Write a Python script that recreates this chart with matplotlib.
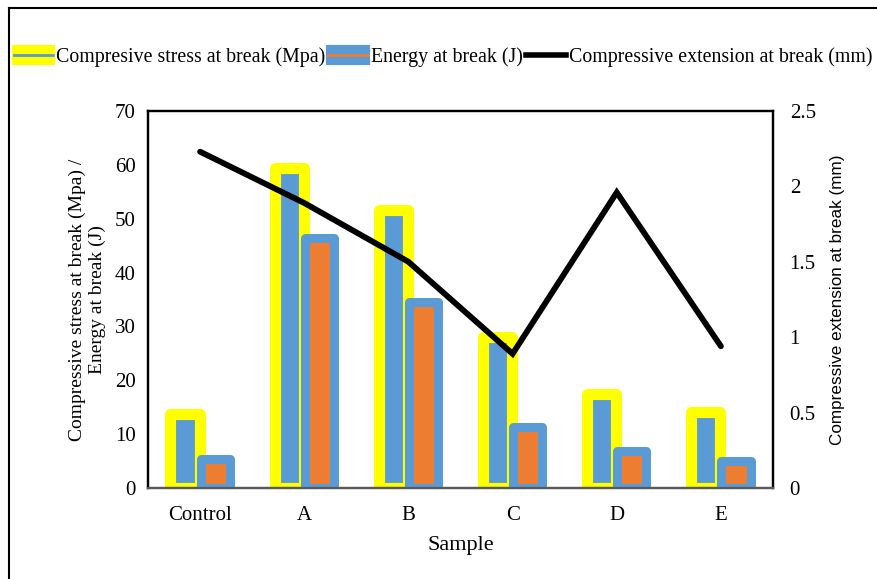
import matplotlib.pyplot as plt
import numpy as np
from matplotlib.patches import Patch
from matplotlib.lines import Line2D

plt.rcParams['font.family'] = ['Liberation Serif', 'DejaVu Serif']

samples = ['Control', 'A', 'B', 'C', 'D', 'E']
stress = [13.8, 59.4, 51.6, 28.0, 17.5, 14.2]      # Mpa
energy = [5.4, 46.5, 34.6, 11.4, 6.8, 5.1]         # J
extension = [2.23, 1.89, 1.50, 0.89, 1.96, 0.94]   # mm

yellow = '#ffff00'
blue = '#5b9bd5'
orange = '#ed7d31'

fig = plt.figure(figsize=(8.77, 5.79), dpi=100)
ax = fig.add_axes([148/877, 1-488/579, 625/877, 377/579])
ax2 = ax.twinx()

x = np.arange(len(samples))
w = 0.28
b1 = ax.bar(x - 0.145, stress, w, color=blue, edgecolor=yellow, linewidth=8, zorder=2)
b2 = ax.bar(x + 0.145, energy, w, color=orange, edgecolor=blue, linewidth=6.5, zorder=3)
for p in list(b1) + list(b2):
    p.set_joinstyle('round')

ax2.plot(x, extension, color='black', linewidth=4.2, solid_capstyle='round',
         solid_joinstyle='miter')

ax.set_xlim(-0.5, 5.5)
ax.set_ylim(0, 70)
ax2.set_ylim(0, 2.5)
ax.set_yticks(range(0, 71, 10))
ax2.set_yticks([0, 0.5, 1, 1.5, 2, 2.5])
ax2.set_yticklabels(['0', '0.5', '1', '1.5', '2', '2.5'])
ax.set_xticks(x)
ax.set_xticklabels(samples)

for a in (ax, ax2):
    a.tick_params(length=0, labelsize=15)
    for s in ('left', 'right', 'top'):
        a.spines[s].set_linewidth(1.6)
        a.spines[s].set_color('black')
    a.spines['bottom'].set_color('#595959')
    a.spines['bottom'].set_linewidth(1.6)
ax.tick_params(axis='y', pad=9)
ax2.tick_params(axis='y', pad=12)
ax.tick_params(axis='x', pad=13)

ax.set_xlabel('Sample', fontsize=16, labelpad=8)
ax.set_ylabel('Compressive stress at break (Mpa) /\nEnergy at break (J)', fontsize=14,
              labelpad=6)
ax2.set_ylabel('Compressive extension at break (mm)', fontsize=12.3,
               family=['Liberation Sans', 'DejaVu Sans'], labelpad=10)

handles = [
    (Patch(facecolor=yellow, edgecolor=yellow, linewidth=3, joinstyle='round'),
     Line2D([], [], color=blue, linewidth=2)),
    (Patch(facecolor=blue, edgecolor=blue, linewidth=3, joinstyle='round'),
     Line2D([], [], color=orange, linewidth=2)),
    Line2D([], [], color='black', linewidth=4),
]
labels = ['Compresive stress at break (Mpa)', 'Energy at break (J)',
          'Compressive extension at break (mm)']
fig.legend(handles, labels, loc='center', bbox_to_anchor=(0.505, 1-57/579), ncol=3,
           frameon=False, fontsize=14.3, handlelength=2.0, handletextpad=0.15,
           columnspacing=0.15, handleheight=0.8)

# figure frame (left and top edges)
fig.add_artist(Line2D([9/877, 9/877], [0, 1-8/579], color='black', linewidth=1.5))
fig.add_artist(Line2D([9/877, 1], [1-8/579, 1-8/579], color='black', linewidth=1.5))

fig.savefig('out.png', dpi=100)
